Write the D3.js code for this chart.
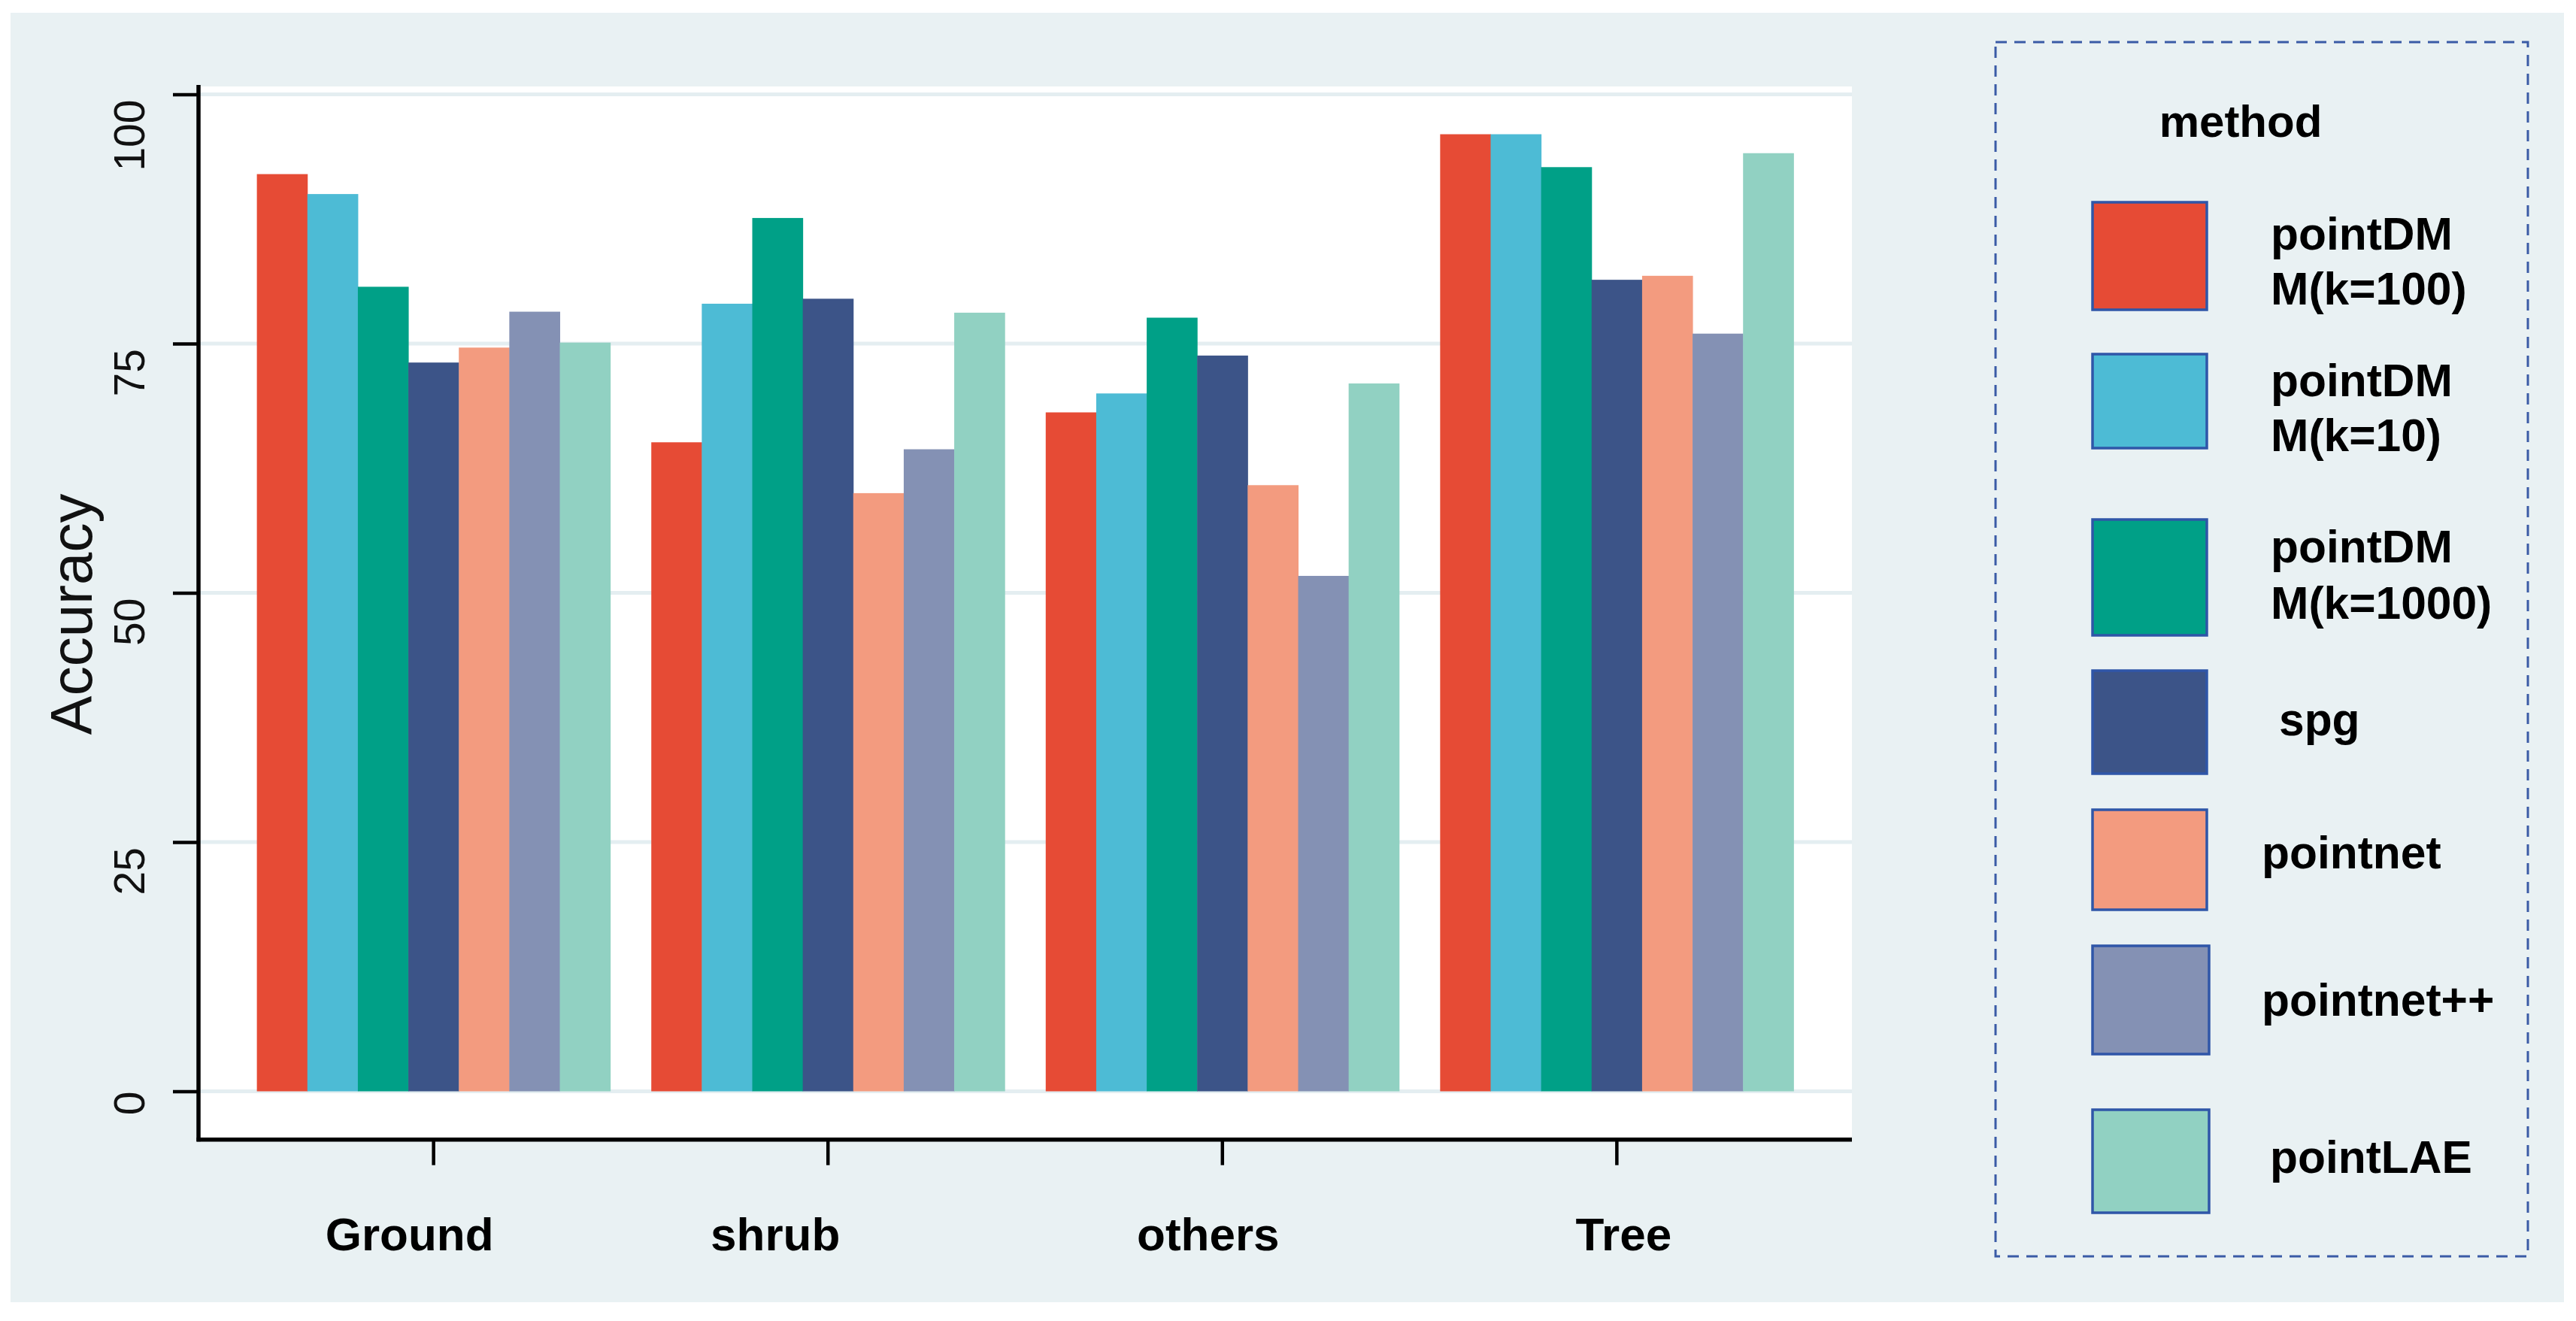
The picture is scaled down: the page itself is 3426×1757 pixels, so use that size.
<!DOCTYPE html>
<html>
<head>
<meta charset="utf-8">
<script src="https://cdn.jsdelivr.net/npm/d3@7"></script>
<style>
  body { margin: 0; background: #fff; }
  text { font-family: "Liberation Sans", Arial, sans-serif; }
</style>
</head>
<body>
<div id="chart"></div>
<script>
// categories and methods
var categories = ['Ground', 'shrub', 'others', 'Tree'];
var methods = ['pointDMM(k=100)', 'pointDMM(k=10)', 'pointDMM(k=1000)', 'spg', 'pointnet', 'pointnet++', 'pointLAE'];
var legendLines = [['pointDM', 'M(k=100)'], ['pointDM', 'M(k=10)'], ['pointDM', 'M(k=1000)'], ['spg'], ['pointnet'], ['pointnet++'], ['pointLAE']];
var colors = ['#e64b35', '#4dbbd5', '#00a087', '#3c5488', '#f39b7f', '#8491b4', '#91d1c2'];

// accuracy per method, in category order
var pointDMM100  = [92.0, 65.1, 68.1, 96.0];
var pointDMM10   = [90.0, 79.0, 70.0, 96.0];
var pointDMM1000 = [80.7, 87.6, 77.6, 92.7];
var spg          = [73.1, 79.5, 73.8, 81.4];
var pointnet     = [74.6, 60.0, 60.8, 81.8];
var pointnetpp   = [78.2, 64.4, 51.7, 76.0];
var pointLAE     = [75.1, 78.1, 71.0, 94.1];
var yTicks = [0, 25, 50, 75, 100];

var series = [pointDMM100, pointDMM10, pointDMM1000, spg, pointnet, pointnetpp, pointLAE];

var width = 3426, height = 1757;
var plot = {left: 264, right: 2463, top: 115, bottom: 1515.7};

var svg = d3.select('#chart').append('svg')
    .attr('width', width)
    .attr('height', height);

svg.append('rect')
    .attr('x', 14).attr('y', 17)
    .attr('width', 3396).attr('height', 1715)
    .attr('fill', '#e9f1f3');

svg.append('rect')
    .attr('x', plot.left).attr('y', plot.top)
    .attr('width', plot.right - plot.left).attr('height', plot.bottom - plot.top)
    .attr('fill', '#ffffff');

var x = d3.scaleBand()
    .domain(categories)
    .range([plot.left, plot.right])
    .paddingInner(0.104)
    .paddingOuter(0.148);

var xm = d3.scaleBand()
    .domain(methods)
    .range([0, x.bandwidth()]);

var y = d3.scaleLinear()
    .domain([0, 100])
    .range([1451.5, 125.5]);

// gridlines
svg.append('g')
    .selectAll('line')
    .data(yTicks)
    .join('line')
    .attr('x1', plot.left)
    .attr('x2', plot.right)
    .attr('y1', d => y(d))
    .attr('y2', d => y(d))
    .attr('stroke', '#e4eef1')
    .attr('stroke-width', 5);

// bars
var groups = svg.append('g')
    .selectAll('g')
    .data(categories)
    .join('g')
    .attr('transform', d => `translate(${x(d)},0)`);

groups.selectAll('rect')
    .data((c, ci) => methods.map((m, mi) => ({method: m, value: series[mi][ci], color: colors[mi]})))
    .join('rect')
    .attr('x', d => xm(d.method))
    .attr('width', xm.bandwidth() + 0.5)
    .attr('y', d => y(d.value))
    .attr('height', d => y(0) - y(d.value))
    .attr('fill', d => d.color);

// y axis
var yAxis = svg.append('g')
    .attr('transform', `translate(${plot.left},0)`)
    .call(d3.axisLeft(y).tickValues(yTicks).tickSize(34).tickSizeOuter(0));
yAxis.select('.domain').remove();
yAxis.selectAll('.tick line').attr('stroke', '#000').attr('stroke-width', 4.5);
yAxis.selectAll('.tick text').remove();

svg.append('line')
    .attr('x1', plot.left).attr('x2', plot.left)
    .attr('y1', 113).attr('y2', plot.bottom + 2.5)
    .attr('stroke', '#000').attr('stroke-width', 5.5);

svg.append('g')
    .selectAll('text')
    .data(yTicks)
    .join('text')
    .attr('transform', d => `translate(192,${y(d) + (d === 0 ? 0 : 7)}) rotate(-90)`)
    .attr('text-anchor', 'end')
    .attr('font-size', 57)
    .attr('fill', '#111')
    .text(d => d);

svg.append('text')
    .attr('transform', 'translate(122,817) rotate(-90)')
    .attr('text-anchor', 'middle')
    .attr('font-size', 78)
    .attr('fill', '#111')
    .text('Accuracy');

// x axis
var xAxis = svg.append('g')
    .attr('transform', `translate(0,${plot.bottom})`)
    .call(d3.axisBottom(x).tickSize(34).tickSizeOuter(0));
xAxis.select('.domain').remove();
xAxis.selectAll('.tick line').attr('stroke', '#000').attr('stroke-width', 4.5);
xAxis.selectAll('.tick text').remove();

svg.append('line')
    .attr('x1', plot.left - 2.5).attr('x2', plot.right)
    .attr('y1', plot.bottom).attr('y2', plot.bottom)
    .attr('stroke', '#000').attr('stroke-width', 5.5);

var labelShift = [-32, -70, -19, 9];
svg.append('g')
    .selectAll('text')
    .data(categories)
    .join('text')
    .attr('x', (d, i) => x(d) + x.bandwidth() / 2 + labelShift[i])
    .attr('y', 1663)
    .attr('text-anchor', 'middle')
    .attr('font-size', 62)
    .attr('font-weight', 'bold')
    .attr('fill', '#000')
    .text(d => d);

// legend
var legend = svg.append('g');

legend.append('rect')
    .attr('x', 2654).attr('y', 56)
    .attr('width', 708).attr('height', 1615)
    .attr('fill', 'none')
    .attr('stroke', '#3a5ba6')
    .attr('stroke-width', 3)
    .attr('stroke-dasharray', '15,10');

legend.append('text')
    .attr('x', 2980).attr('y', 182)
    .attr('text-anchor', 'middle')
    .attr('font-size', 60)
    .attr('font-weight', 'bold')
    .text('method');

var legendRows = [
    {y: 269, h: 143, tx: 3020, ty: [332, 405]},
    {y: 471, h: 125, tx: 3020, ty: [527, 600]},
    {y: 691, h: 154, tx: 3020, ty: [748, 823]},
    {y: 892, h: 137, tx: 3031, ty: [978]},
    {y: 1077, h: 133, tx: 3008, ty: [1155]},
    {y: 1258, h: 144, tx: 3008, ty: [1351]},
    {y: 1476, h: 137, tx: 3019, ty: [1560]}
];

var items = legend.selectAll('g.item')
    .data(methods)
    .join('g')
    .attr('class', 'item');

items.append('rect')
    .attr('x', 2783)
    .attr('y', (d, i) => legendRows[i].y)
    .attr('width', (d, i) => i >= 5 ? 155 : 152)
    .attr('height', (d, i) => legendRows[i].h)
    .attr('fill', (d, i) => colors[i])
    .attr('stroke', '#2f56a8')
    .attr('stroke-width', 3.5);

items.each(function(d, i) {
    var g = d3.select(this);
    legendLines[i].forEach((line, j) => {
        g.append('text')
            .attr('x', legendRows[i].tx)
            .attr('y', legendRows[i].ty[j])
            .attr('font-size', 60.5)
            .attr('font-weight', 'bold')
            .attr('fill', '#000')
            .text(line);
    });
});
</script>
</body>
</html>
